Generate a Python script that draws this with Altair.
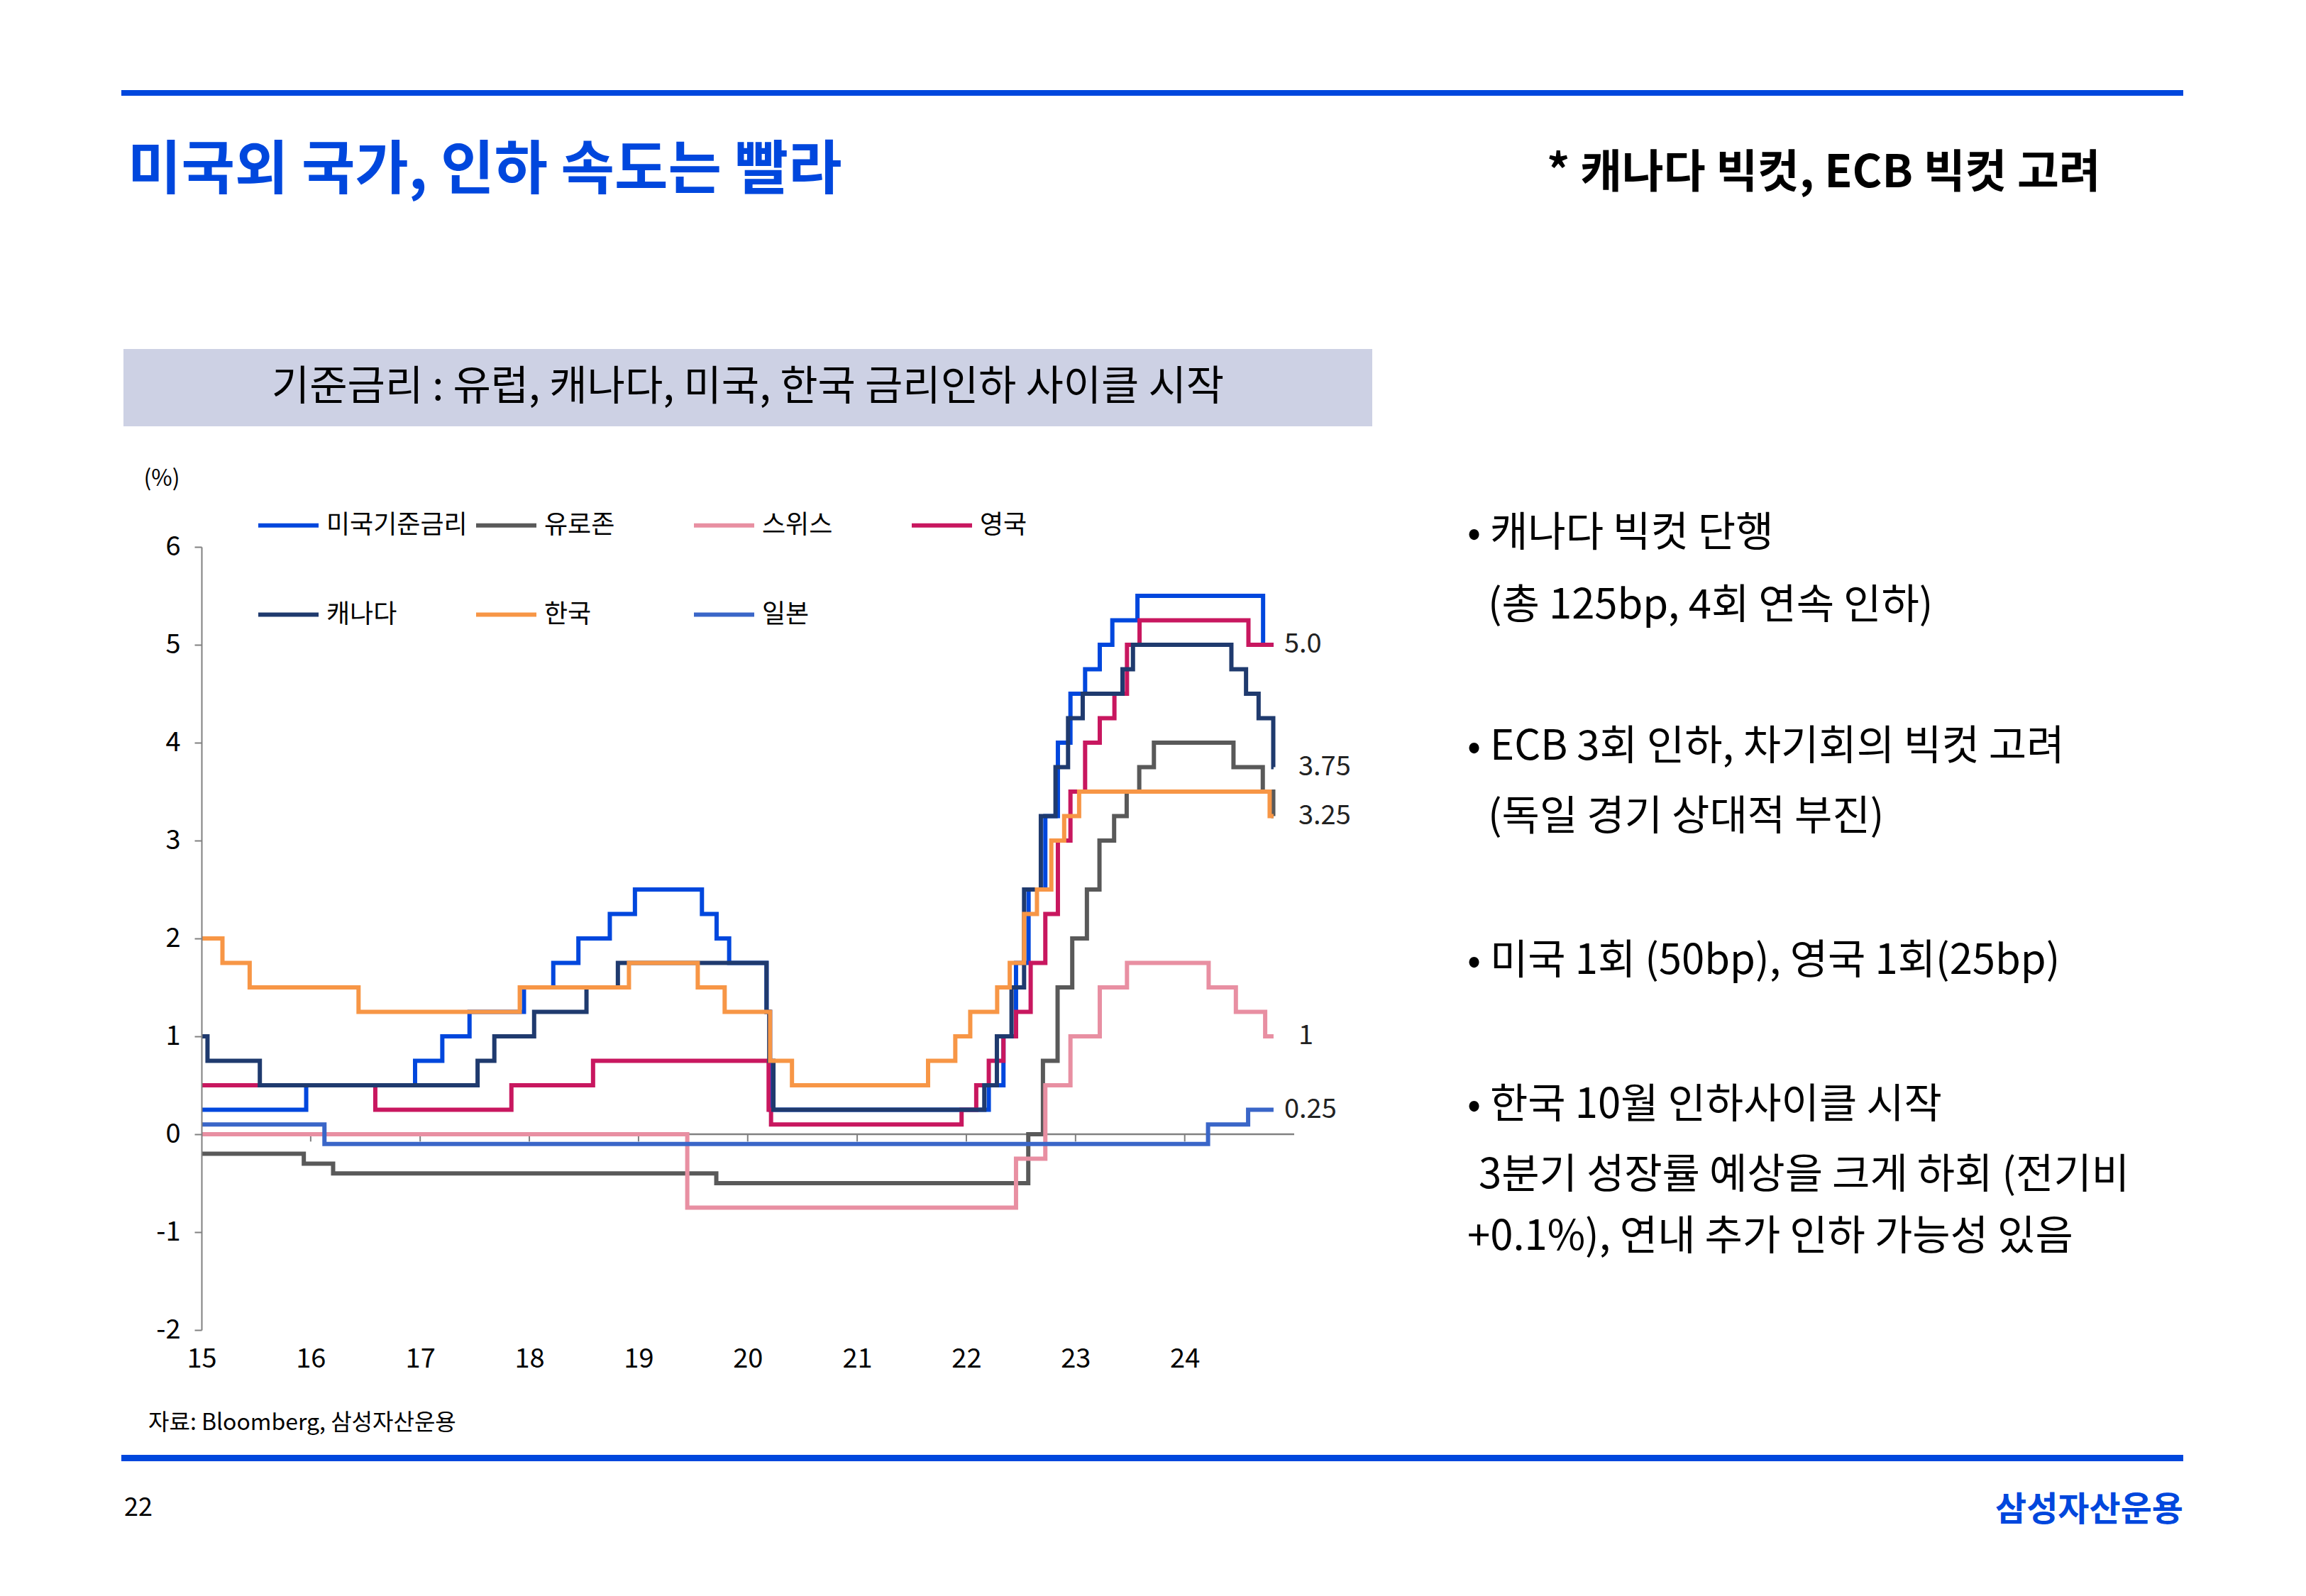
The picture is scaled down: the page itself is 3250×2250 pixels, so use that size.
import altair as alt
import pandas as pd

FONT = "Noto Sans CJK KR"
BLUE = "#0047DD"
END_DATE = "2024-10-24"

countries = ["미국기준금리", "유로존", "스위스", "영국", "캐나다", "한국", "일본"]
colors = ["#0047DD", "#595959", "#E88FA2", "#C8175F", "#1F3A6E", "#F79646", "#3A66C8"]

us_dates = ["2015-01-01", "2015-12-17", "2016-12-15", "2017-03-16", "2017-06-15", "2017-12-14",
            "2018-03-22", "2018-06-14", "2018-09-27", "2018-12-20", "2019-08-01", "2019-09-19",
            "2019-10-31", "2020-03-04", "2020-03-16", "2022-03-17", "2022-05-05", "2022-06-16",
            "2022-07-28", "2022-09-22", "2022-11-03", "2022-12-15", "2023-02-02", "2023-03-23",
            "2023-05-04", "2023-07-27", "2024-09-19"]
us_rates = [0.25, 0.5, 0.75, 1.0, 1.25, 1.5, 1.75, 2.0, 2.25, 2.5, 2.25, 2.0, 1.75, 1.25, 0.25,
            0.5, 1.0, 1.75, 2.5, 3.25, 4.0, 4.5, 4.75, 5.0, 5.25, 5.5, 5.0]

euro_dates = ["2015-01-01", "2015-12-09", "2016-03-16", "2019-09-18", "2022-07-27", "2022-09-14",
              "2022-11-02", "2022-12-21", "2023-02-08", "2023-03-22", "2023-05-10", "2023-06-21",
              "2023-08-02", "2023-09-20", "2024-06-12", "2024-09-18", "2024-10-23"]
euro_rates = [-0.2, -0.3, -0.4, -0.5, 0.0, 0.75, 1.5, 2.0, 2.5, 3.0, 3.25, 3.5, 3.75, 4.0, 3.75,
              3.5, 3.25]

swiss_dates = ["2015-01-01", "2019-06-13", "2022-06-16", "2022-09-22", "2022-12-15", "2023-03-23",
               "2023-06-22", "2024-03-21", "2024-06-20", "2024-09-26"]
swiss_rates = [0.0, -0.75, -0.25, 0.5, 1.0, 1.5, 1.75, 1.5, 1.25, 1.0]

uk_dates = ["2015-01-01", "2016-08-04", "2017-11-02", "2018-08-02", "2020-03-11", "2020-03-19",
            "2021-12-16", "2022-02-03", "2022-03-17", "2022-05-05", "2022-06-16", "2022-08-04",
            "2022-09-22", "2022-11-03", "2022-12-15", "2023-02-02", "2023-03-23", "2023-05-11",
            "2023-06-22", "2023-08-03", "2024-08-01"]
uk_rates = [0.5, 0.25, 0.5, 0.75, 0.25, 0.1, 0.25, 0.5, 0.75, 1.0, 1.25, 1.75, 2.25, 3.0, 3.5,
            4.0, 4.25, 4.5, 5.0, 5.25, 5.0]

canada_dates = ["2015-01-01", "2015-01-21", "2015-07-15", "2017-07-12", "2017-09-06", "2018-01-17",
                "2018-07-11", "2018-10-24", "2020-03-04", "2020-03-13", "2020-03-27", "2022-03-02",
                "2022-04-13", "2022-06-01", "2022-07-13", "2022-09-07", "2022-10-26", "2022-12-07",
                "2023-01-25", "2023-06-07", "2023-07-12", "2024-06-05", "2024-07-24", "2024-09-04",
                "2024-10-23"]
canada_rates = [1.0, 0.75, 0.5, 0.75, 1.0, 1.25, 1.5, 1.75, 1.25, 0.75, 0.25, 0.5, 1.0, 1.5, 2.5,
                3.25, 3.75, 4.25, 4.5, 4.75, 5.0, 4.75, 4.5, 4.25, 3.75]

korea_dates = ["2015-01-01", "2015-03-12", "2015-06-11", "2016-06-09", "2017-11-30", "2018-11-30",
               "2019-07-18", "2019-10-16", "2020-03-16", "2020-05-28", "2021-08-26", "2021-11-25",
               "2022-01-14", "2022-04-14", "2022-05-26", "2022-07-13", "2022-08-25", "2022-10-12",
               "2022-11-24", "2023-01-13", "2024-10-11"]
korea_rates = [2.0, 1.75, 1.5, 1.25, 1.5, 1.75, 1.5, 1.25, 0.75, 0.5, 0.75, 1.0, 1.25, 1.5, 1.75,
               2.25, 2.5, 3.0, 3.25, 3.5, 3.25]

japan_dates = ["2015-01-01", "2016-02-16", "2024-03-19", "2024-07-31"]
japan_rates = [0.1, -0.1, 0.1, 0.25]

year_ticks = [2016, 2017, 2018, 2019, 2020, 2021, 2022, 2023, 2024]
y_ticks = [-2, -1, 0, 1, 2, 3, 4, 5, 6]

end_labels_near = ["5.0", "0.25"]
end_values_near = [5.0, 0.25]
end_labels_far = ["3.75", "3.25", "1"]
end_values_far = [3.75, 3.25, 1.0]

title_text = "미국외 국가, 인하 속도는 빨라"
subtitle_text = "* 캐나다 빅컷, ECB 빅컷 고려"
box_text = "기준금리 : 유럽, 캐나다, 미국, 한국 금리인하 사이클 시작"
unit_text = "(%)"
source_text = "자료: Bloomberg, 삼성자산운용"
page_text = "22"
brand_text = "삼성자산운용"
bullet_lines = [
    ("•", "캐나다 빅컷 단행"),
    ("", "(총 125bp, 4회 연속 인하)"),
    ("•", "ECB 3회 인하, 차기회의 빅컷 고려"),
    ("", "(독일 경기 상대적 부진)"),
    ("•", "미국 1회 (50bp), 영국 1회(25bp)"),
    ("•", "한국 10월 인하사이클 시작"),
    ("", "3분기 성장률 예상을 크게 하회 (전기비"),
    ("", "+0.1%), 연내 추가 인하 가능성 있음"),
]

# ---------- build tables ----------
series = [
    (countries[0], us_dates, us_rates),
    (countries[1], euro_dates, euro_rates),
    (countries[2], swiss_dates, swiss_rates),
    (countries[3], uk_dates, uk_rates),
    (countries[4], canada_dates, canada_rates),
    (countries[5], korea_dates, korea_rates),
    (countries[6], japan_dates, japan_rates),
]
rows = []
for order, (name, ds, vs) in enumerate(series):
    for d, v in zip(ds + [END_DATE], vs + [vs[-1]]):
        rows.append({"country": name, "date": d, "rate": v, "order": order})
df = pd.DataFrame(rows)

W, H = 1540, 1104

x_scale = alt.Scale(type="utc",
                    domain=[alt.DateTime(year=2015, month=1, date=1, utc=True),
                            alt.DateTime(year=2025, month=1, date=1, utc=True)])
y_scale = alt.Scale(domain=[-2, 6], nice=False, zero=False)

x_axis = alt.Axis(values=[alt.DateTime(year=y, month=1, date=1, utc=True) for y in range(2015, 2025)],
                  labelExpr="utcFormat(datum.value, '%y')", title=None, domain=False, ticks=False,
                  grid=False, labelFontSize=38, labelPadding=22, labelColor="#000000",
                  labelFlush=False, labelFont=FONT, zindex=1)
y_axis = alt.Axis(values=y_ticks, labelExpr="datum.value + ''", title=None, grid=False,
                  domain=True, domainColor="#808080", domainWidth=2, ticks=True,
                  tickColor="#808080", tickWidth=2, tickSize=10, labelFontSize=38,
                  labelPadding=20, labelColor="#000000", labelFont=FONT, zindex=1)


def X(field):
    return alt.X(field, scale=x_scale, axis=x_axis)


def Y(field):
    return alt.Y(field, scale=y_scale, axis=y_axis)


one = pd.DataFrame({"k": [0]})


def rect(x, x2, y, y2, color, opacity=1.0):
    return alt.Chart(one).mark_rect(color=color, opacity=opacity).encode(
        x=alt.value(x), x2=alt.value(x2), y=alt.value(y), y2=alt.value(y2))


def text(t, x, y, size, weight="normal", color="#000000", align="left"):
    return alt.Chart(pd.DataFrame({"t": [t]})).mark_text(
        align=align, baseline="middle", fontSize=size, fontWeight=weight, color=color, font=FONT
    ).encode(text="t:N", x=alt.value(x), y=alt.value(y))


# page frame (plot origin is at page (284, 771)); invisible frame fixes the page extent
frame = rect(-276, 2958, -763, 1471, "#FFFFFF", 0.0)
top_bar = rect(-113, 2793, -644, -636, BLUE)
bottom_bar = rect(-113, 2793, 1280, 1289, BLUE)
grey_box = rect(-110, 1650, -279, -170, "#CDD1E4")

decor = [
    text(title_text, -104, -530, 82, "bold", BLUE),
    text(subtitle_text, 1896, -526, 64, "bold"),
    text(box_text, 770, -224, 58, "normal", "#000000", "center"),
    text(unit_text, -56, -96, 32, "normal", "#000000", "center"),
    text(source_text, -75, 1235, 32),
    text(page_text, -109, 1355, 36),
    text(brand_text, 2793, 1359, 48, "bold", BLUE, "right"),
]
bullet_y = [-18, 84, 283, 382, 585, 788, 887, 974]
bullet_x = [1816, 1813, 1816, 1813, 1816, 1816, 1800, 1784]
for (b, t), yy, xx in zip(bullet_lines, bullet_y, bullet_x):
    if b:
        decor.append(text(b, 1784, yy, 56))
    decor.append(text(t, xx, yy, 58))

# zero line and year ticks
zero_df = pd.DataFrame({"start": ["2015-01-01"], "end": ["2025-01-01"]})
zero_line = alt.Chart(zero_df).mark_rule(color="#808080", strokeWidth=2.5).encode(
    x=X("start:T"), x2="end:T", y=alt.datum(0))
tick_df = pd.DataFrame({"date": [f"{y}-01-01" for y in year_ticks]})
year_tick_marks = alt.Chart(tick_df).mark_rule(color="#808080", strokeWidth=2).encode(
    x=X("date:T"), y=alt.datum(0), y2=alt.datum(-0.075))

lines = alt.Chart(df).mark_line(interpolate="step-after", strokeWidth=6).encode(
    x=X("date:T"),
    y=Y("rate:Q"),
    color=alt.Color("country:N", sort=countries,
                    scale=alt.Scale(domain=countries, range=colors),
                    legend=alt.Legend(title=None, orient="none", legendX=77, legendY=-76,
                                      direction="horizontal", columns=4, symbolType="stroke",
                                      symbolSize=7225, symbolStrokeWidth=6, labelFontSize=36,
                                      labelFont=FONT, labelColor="#000000", labelOffset=8,
                                      columnPadding=0, rowPadding=62, gridAlign="all",
                                      padding=0, labelLimit=0)),
    order=alt.Order("order:Q"),
    detail="country:N",
)

near_df = pd.DataFrame({"date": [END_DATE] * len(end_values_near), "rate": end_values_near,
                        "lab": end_labels_near})
far_df = pd.DataFrame({"date": [END_DATE] * len(end_values_far), "rate": end_values_far,
                       "lab": end_labels_far})
near_labels = alt.Chart(near_df).mark_text(align="left", baseline="middle", dx=15, fontSize=38,
                                           font=FONT, color="#222222").encode(
    x=X("date:T"), y=Y("rate:Q"), text="lab:N")
far_labels = alt.Chart(far_df).mark_text(align="left", baseline="middle", dx=35, fontSize=38,
                                         font=FONT, color="#222222").encode(
    x=X("date:T"), y=Y("rate:Q"), text="lab:N")

chart = alt.layer(
    frame, top_bar, bottom_bar, grey_box, zero_line, year_tick_marks, lines,
    near_labels, far_labels, *decor
).properties(width=W, height=H, padding=0, background="#FFFFFF").configure(
    font=FONT
).configure_view(stroke=None)

chart.save("out.html", embed_options={"renderer": "svg", "actions": False})
